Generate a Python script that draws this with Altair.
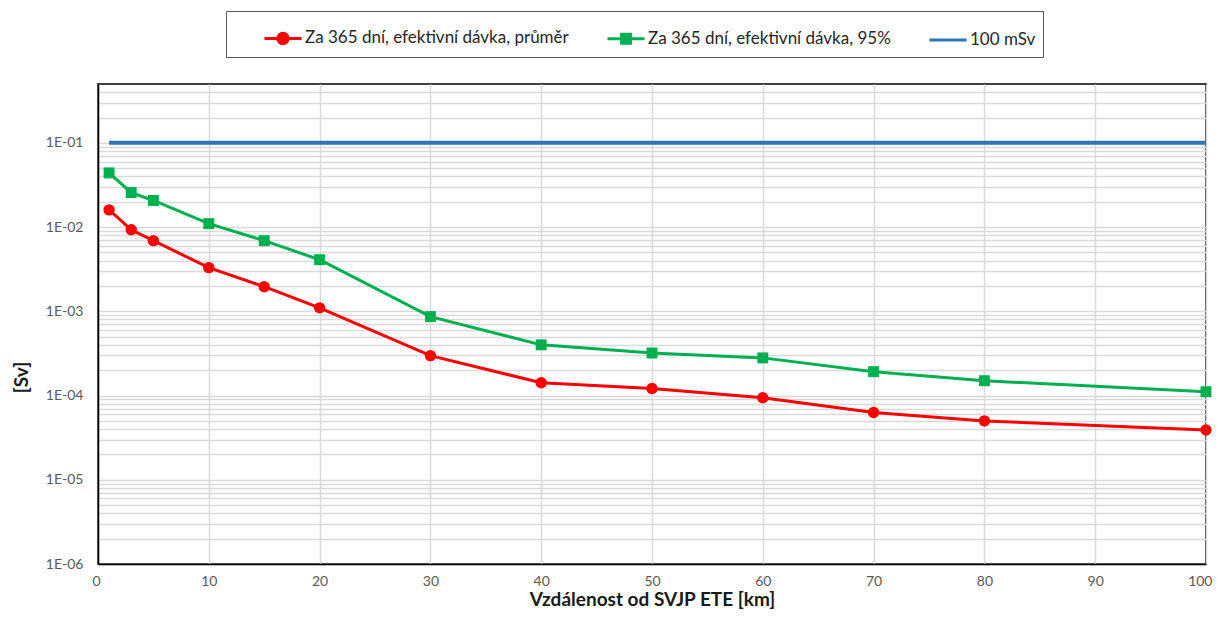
import altair as alt
import pandas as pd

# ---- data ----
distance_km = [1, 3, 5, 10, 15, 20, 30, 40, 50, 60, 70, 80, 100]
dose_mean = [1.6e-2, 9.3e-3, 6.9e-3, 3.3e-3, 1.96e-3, 1.1e-3, 2.98e-4,
             1.42e-4, 1.21e-4, 9.4e-5, 6.3e-5, 5.0e-5, 3.9e-5]
dose_p95 = [4.4e-2, 2.57e-2, 2.07e-2, 1.10e-2, 6.9e-3, 4.1e-3, 8.65e-4,
            4.0e-4, 3.2e-4, 2.8e-4, 1.92e-4, 1.50e-4, 1.11e-4]
limit_x = [1, 100]
limit_y = [0.1, 0.1]

series_names = [
    "Za 365 dní, efektivní dávka, průměr",
    "Za 365 dní, efektivní dávka, 95%",
    "100 mSv",
]
series_colors = ["#ff0000", "#00b050", "#2e75b6"]

x_ticks = [0, 10, 20, 30, 40, 50, 60, 70, 80, 90, 100]
y_decade_exp = [-6, -5, -4, -3, -2, -1]
minor_mult = [1, 2, 3, 4, 5, 6, 7, 8, 9]

rows = []
for i, (x, y) in enumerate(zip(distance_km, dose_mean)):
    rows.append({"series": series_names[0], "x": x, "y": y, "o": i})
for i, (x, y) in enumerate(zip(distance_km, dose_p95)):
    rows.append({"series": series_names[1], "x": x, "y": y, "o": i})
for i, (x, y) in enumerate(zip(limit_x, limit_y)):
    rows.append({"series": series_names[2], "x": x, "y": y, "o": i})
df = pd.DataFrame(rows)

grid_vals = []
for e in y_decade_exp:
    for m in minor_mult:
        v = float(f"{m}e{e}")
        if v < 0.5:
            grid_vals.append(v)

xenc = alt.X(
    "x:Q",
    scale=alt.Scale(domain=[0, 100], nice=False),
    axis=alt.Axis(
        values=x_ticks, title="Vzdálenost od SVJP ETE [km]", grid=True,
        gridColor="#d9d9d9", gridWidth=1.5, ticks=False, labelPadding=10,
        labelFlush=True, labelFlushOffset=6,
        labelFontSize=14, labelColor="#595959", labelFont="Lato",
        domainColor="#000000", domainWidth=1.5, titleFont="Lato",
        titleFontSize=19, titleFontWeight="bold", titleColor="#1a1a1a",
        titleBaseline="alphabetic", titleY=41,
    ),
)
yenc = alt.Y(
    "y:Q",
    scale=alt.Scale(type="log", domain=[1e-6, 0.5], nice=False),
    axis=alt.Axis(
        values=grid_vals, title="[Sv]", grid=True, gridColor="#d9d9d9",
        gridWidth=1.5, ticks=False, labelOverlap=False, labelPadding=15,
        labelFlush=False,
        labelExpr="abs(log(datum.value)/LN10 - round(log(datum.value)/LN10)) < 0.001 ? ('1E-0' + round(-log(datum.value)/LN10)) : ''",
        labelFontSize=14, labelColor="#595959", labelFont="Lato",
        domainColor="#000000", domainWidth=1.5, titleFont="Lato",
        titleFontSize=19, titleFontWeight="bold", titleColor="#1a1a1a",
        titleAngle=270, titleAlign="center", titleBaseline="middle",
        titleX=-77, titleY=293,
    ),
)

base = alt.Chart(df)

line_mean = base.transform_filter(alt.datum.series == series_names[0]).mark_line(
    strokeWidth=3, color=series_colors[0]
).encode(x=xenc, y=yenc, order="o:Q")
line_p95 = base.transform_filter(alt.datum.series == series_names[1]).mark_line(
    strokeWidth=3, color=series_colors[1]
).encode(x="x:Q", y="y:Q", order="o:Q")
limit_line = base.transform_filter(alt.datum.series == series_names[2]).mark_line(
    strokeWidth=4, color=series_colors[2]
).encode(x="x:Q", y="y:Q", order="o:Q")

pts_mean = base.transform_filter(alt.datum.series == series_names[0]).mark_point(
    shape="circle", filled=True, size=130, opacity=1, color=series_colors[0]
).encode(x="x:Q", y="y:Q")
pts_p95 = base.transform_filter(alt.datum.series == series_names[1]).mark_point(
    shape="square", filled=True, size=120, opacity=1, color=series_colors[1]
).encode(x="x:Q", y="y:Q")

legend_paths = [
    "M-1,0L1,0M0.28,0A0.28,0.28 0 1,1 -0.28,0A0.28,0.28 0 1,1 0.28,0Z",
    "M-1,0L1,0M-0.24,-0.24L0.24,-0.24L0.24,0.24L-0.24,0.24Z",
    "M-1,0L1,0",
]
leg = alt.Legend(
    title=None, orient="none", direction="horizontal", legendX=128, legendY=-73,
    symbolSize=1369, symbolStrokeWidth=3, symbolOpacity=1, labelFont="Lato",
    labelFontSize=17, labelColor="#262626", labelLimit=600, labelOffset=2,
    columnPadding=7, padding=7, symbolOffset=30, strokeColor="#595959",
    fillColor="#ffffff",
    labelExpr="datum.value == '100 mSv' ? datum.label + '\u2003\u2003\u2003' : datum.label",
)
cscale = alt.Scale(domain=series_names, range=series_colors)
legend_layer = base.mark_point(filled=True, opacity=0).encode(
    x="x:Q", y="y:Q",
    color=alt.Color("series:N", scale=cscale, legend=leg),
    stroke=alt.Stroke("series:N", scale=cscale, legend=leg),
    shape=alt.Shape("series:N", scale=alt.Scale(domain=series_names, range=legend_paths), legend=leg),
)

chart = alt.layer(line_mean, line_p95, limit_line, pts_mean, pts_p95, legend_layer).properties(
    width=1108, height=480,
    autosize=alt.AutoSizeParams(type="none"),
    padding={"left": 90, "top": 76, "right": 7, "bottom": 45},
).configure_view(stroke="#000000", strokeWidth=1.5)

chart.save("out.html", embed_options={"renderer": "svg", "actions": False})
